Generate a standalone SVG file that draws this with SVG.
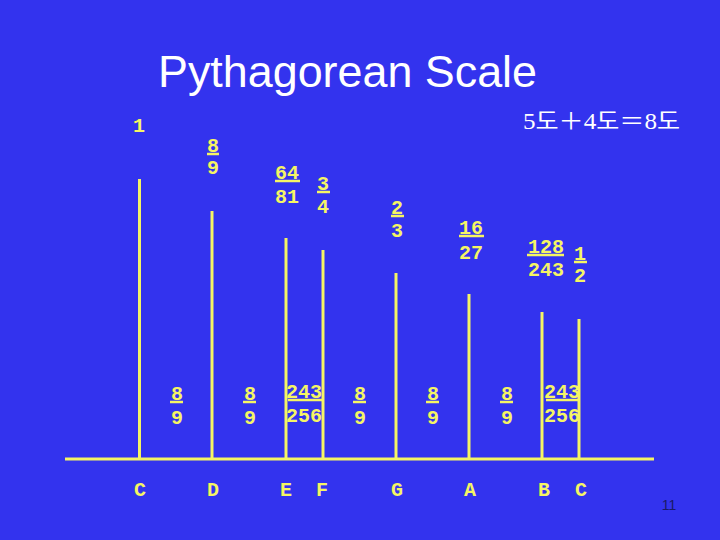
<svg xmlns="http://www.w3.org/2000/svg" width="720" height="540" viewBox="0 0 720 540">
<style>
.fr{font-family:"Liberation Mono","DejaVu Sans Mono",monospace;font-weight:bold;font-size:20px;fill:#F5F564;text-anchor:middle}
.ul{stroke:#F5F564;stroke-width:2.5}
.ln{stroke:#F5F564;stroke-width:3;fill:none}
.title{font-family:"Liberation Sans",Arial,sans-serif;font-size:44px;fill:#FFFFFF}
.eq{font-family:"Liberation Serif","Noto Sans CJK KR",serif;font-size:23px;fill:#FFFFFF}
</style>
<rect width="720" height="540" fill="#3333EE"/>
<text class="title" x="158" y="87" textLength="379" lengthAdjust="spacingAndGlyphs">Pythagorean Scale</text>
<text class="eq" x="680" y="129" text-anchor="end" textLength="157" lengthAdjust="spacingAndGlyphs">5도＋4도＝8도</text>
<g id="connectors">
<line class="ln" x1="65" y1="459" x2="654" y2="459"/>
<line class="ln" x1="139.5" y1="179" x2="139.5" y2="459"/>
<line class="ln" x1="212" y1="211" x2="212" y2="459"/>
<line class="ln" x1="286" y1="238" x2="286" y2="459"/>
<line class="ln" x1="323" y1="250" x2="323" y2="459"/>
<line class="ln" x1="396" y1="273" x2="396" y2="459" stroke-width="4"/>
<line class="ln" x1="469" y1="294" x2="469" y2="459"/>
<line class="ln" x1="542" y1="312" x2="542" y2="459"/>
<line class="ln" x1="579" y1="319" x2="579" y2="459"/>
</g>
<g id="r-c"><text class="fr" x="139" y="132">1</text></g>
<g id="r-d"><text class="fr" x="213" y="152">8</text><line class="ul" x1="207" y1="154" x2="219" y2="154"/><text class="fr" x="213" y="174">9</text></g>
<g id="r-e"><text class="fr" x="287" y="179">64</text><line class="ul" x1="275" y1="181" x2="300" y2="181"/><text class="fr" x="287" y="203">81</text></g>
<g id="r-f"><text class="fr" x="323" y="190">3</text><line class="ul" x1="317" y1="192" x2="330" y2="192"/><text class="fr" x="323" y="213">4</text></g>
<g id="r-g"><text class="fr" x="397" y="214">2</text><line class="ul" x1="391" y1="216" x2="404" y2="216"/><text class="fr" x="397" y="237">3</text></g>
<g id="r-a"><text class="fr" x="471" y="234">16</text><line class="ul" x1="459" y1="236" x2="484" y2="236"/><text class="fr" x="471" y="259">27</text></g>
<g id="r-b"><text class="fr" x="546" y="253">128</text><line class="ul" x1="527" y1="255" x2="564" y2="255"/><text class="fr" x="546" y="276">243</text></g>
<g id="r-c2"><text class="fr" x="580" y="260">1</text><line class="ul" x1="574" y1="262" x2="587" y2="262"/><text class="fr" x="580" y="282">2</text></g>
<g id="s-cd"><text class="fr" x="177" y="400">8</text><line class="ul" x1="170" y1="402" x2="183" y2="402"/><text class="fr" x="177" y="424">9</text></g>
<g id="s-de"><text class="fr" x="250" y="400">8</text><line class="ul" x1="243" y1="402" x2="256" y2="402"/><text class="fr" x="250" y="424">9</text></g>
<g id="s-ef"><text class="fr" x="304" y="398">243</text><line class="ul" x1="288" y1="400" x2="322" y2="400"/><text class="fr" x="304" y="422">256</text></g>
<g id="s-fg"><text class="fr" x="360" y="400">8</text><line class="ul" x1="353" y1="402" x2="366" y2="402"/><text class="fr" x="360" y="424">9</text></g>
<g id="s-ga"><text class="fr" x="433" y="400">8</text><line class="ul" x1="426" y1="402" x2="439" y2="402"/><text class="fr" x="433" y="424">9</text></g>
<g id="s-ab"><text class="fr" x="507" y="400">8</text><line class="ul" x1="500" y1="402" x2="513" y2="402"/><text class="fr" x="507" y="424">9</text></g>
<g id="s-bc"><text class="fr" x="562" y="398">243</text><line class="ul" x1="546" y1="400" x2="578" y2="400"/><text class="fr" x="562" y="422">256</text></g>
<g id="notes">
<text class="fr" x="140" y="496">C</text>
<text class="fr" x="213" y="496">D</text>
<text class="fr" x="286" y="496">E</text>
<text class="fr" x="322" y="496">F</text>
<text class="fr" x="397" y="496">G</text>
<text class="fr" x="470" y="496">A</text>
<text class="fr" x="544" y="496">B</text>
<text class="fr" x="581" y="496">C</text>
</g>
<text x="669" y="510" font-family="'Liberation Sans',Arial,sans-serif" font-size="14" fill="#1A1A66" text-anchor="middle">11</text>
</svg>
